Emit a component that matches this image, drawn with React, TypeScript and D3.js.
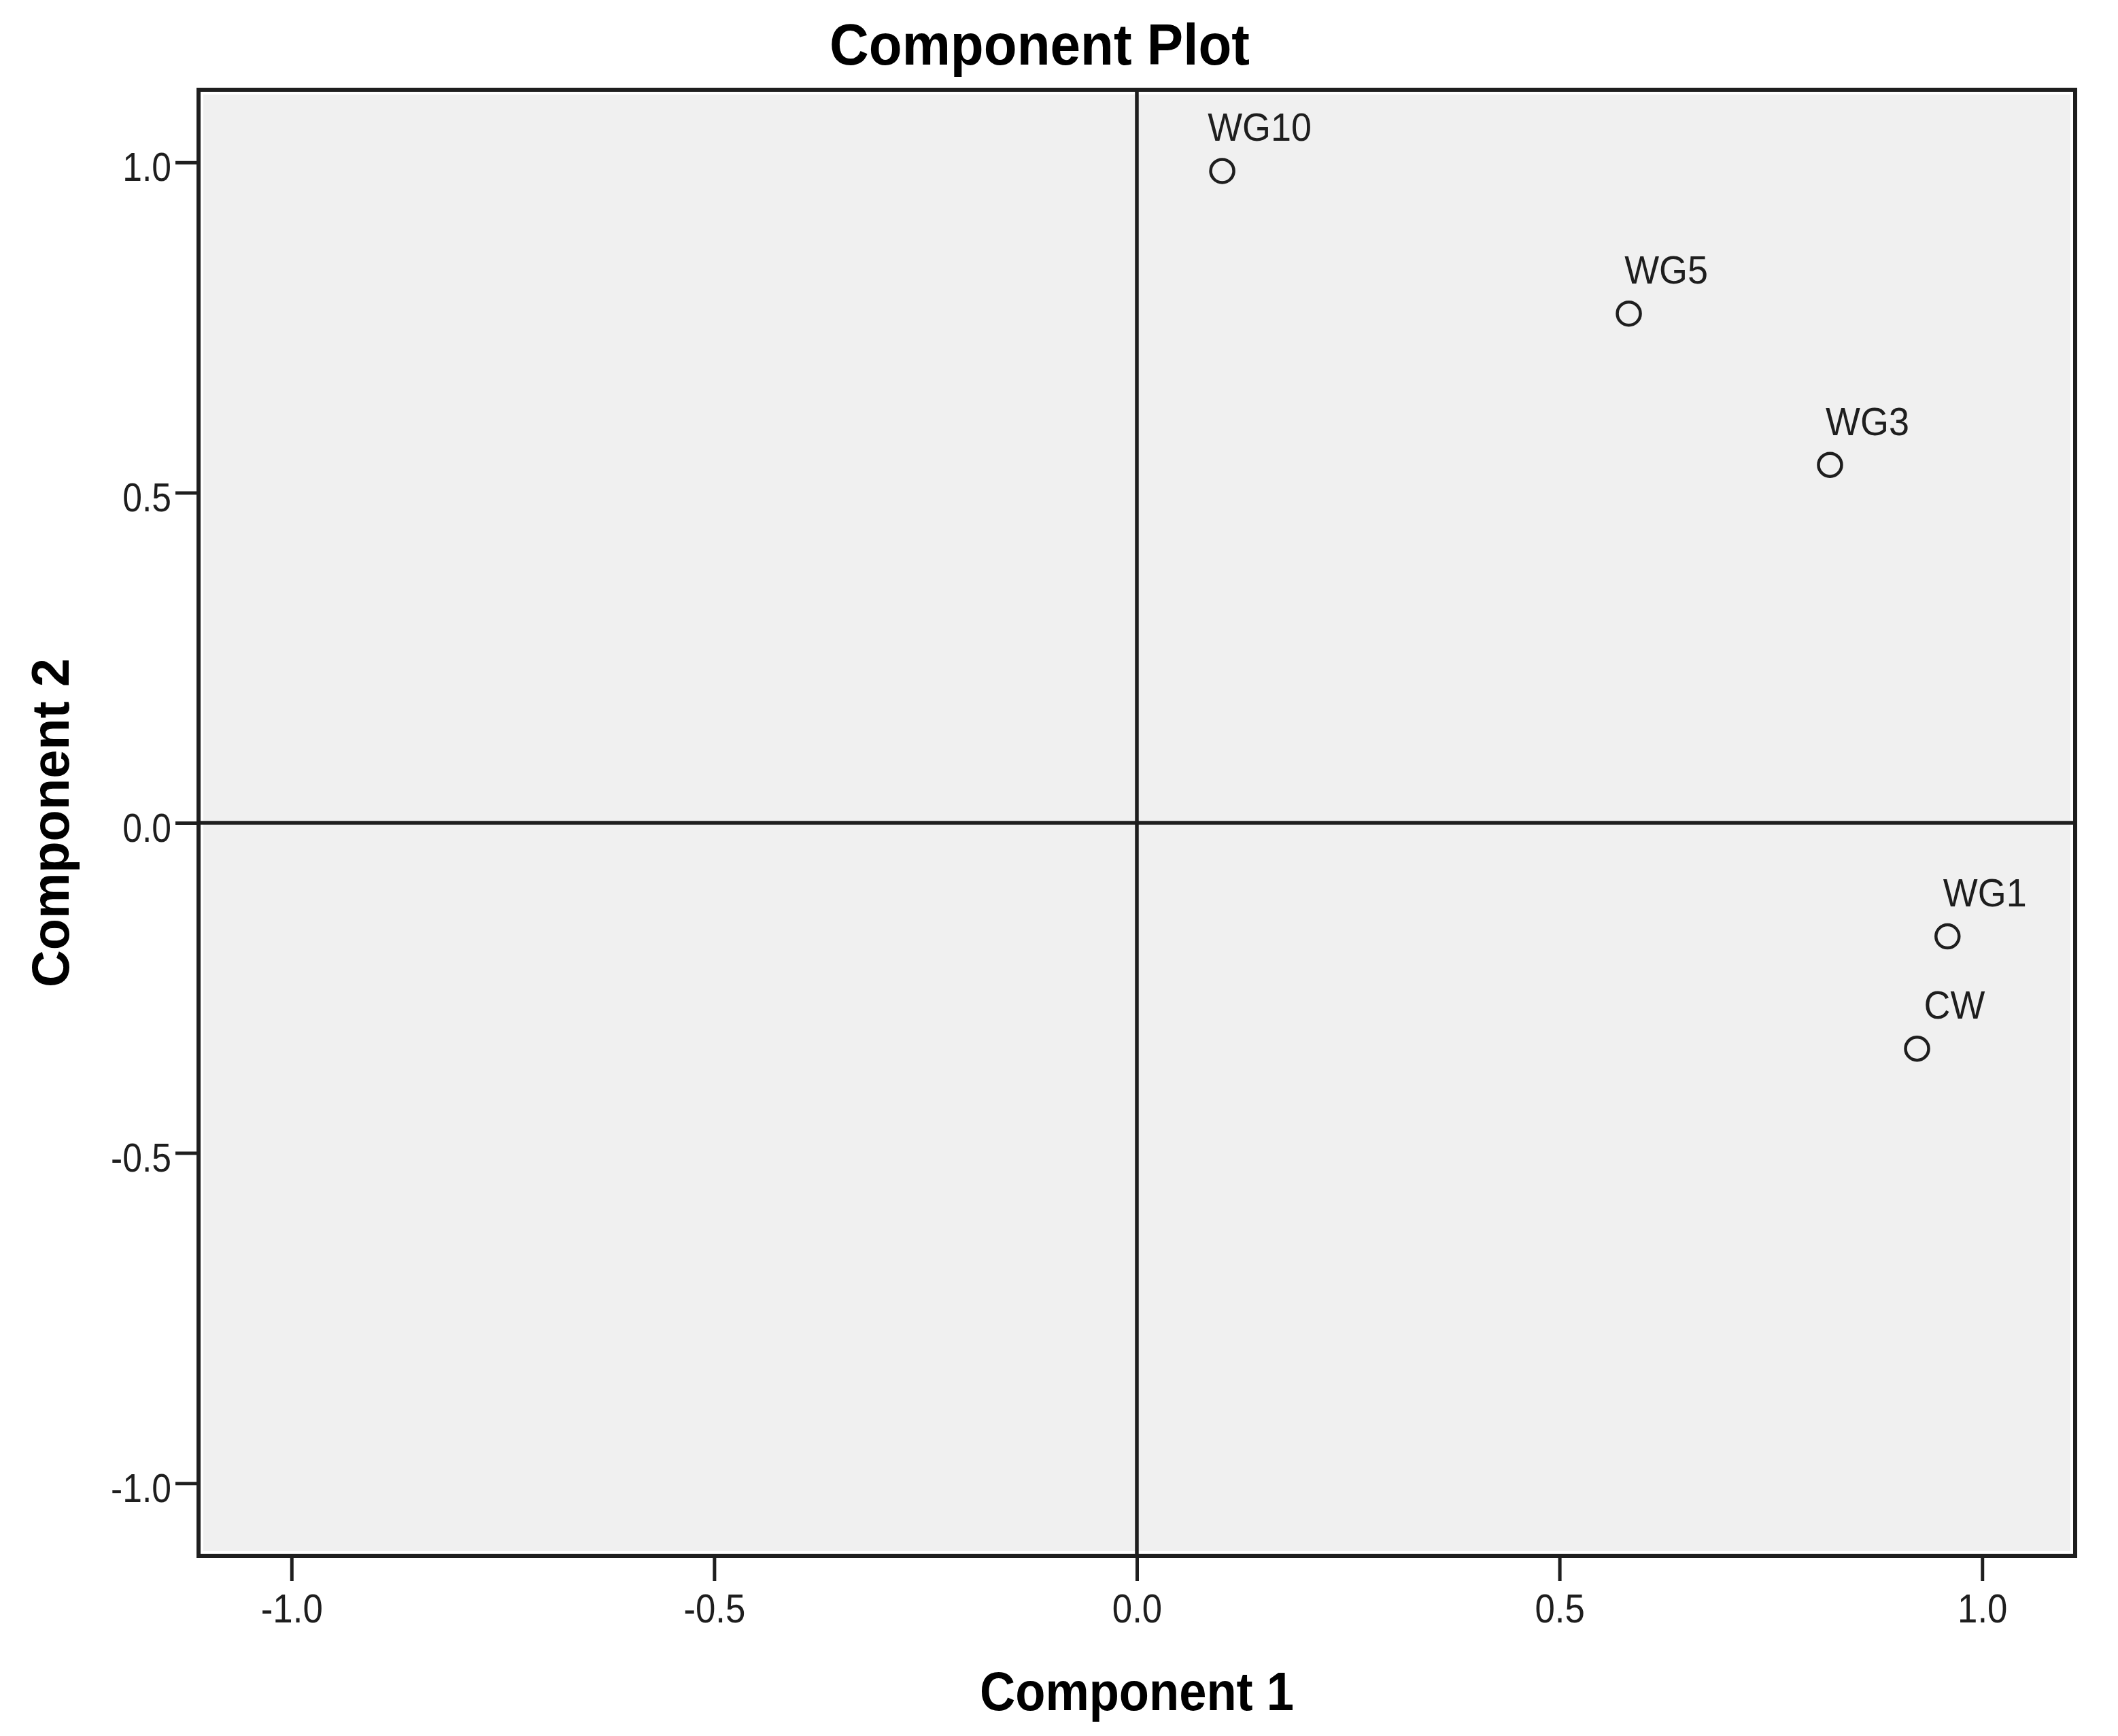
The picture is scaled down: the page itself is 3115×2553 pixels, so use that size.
// App.tsx
import React, { useRef, useEffect } from "react";
import * as d3 from "d3";

// component loadings
const variables = ["WG10", "WG5", "WG3", "WG1", "CW"];
const component1 = [0.101, 0.582, 0.82, 0.959, 0.923];
const component2 = [0.987, 0.771, 0.542, -0.172, -0.342];

const xTicks = [-1.0, -0.5, 0.0, 0.5, 1.0];
const yTicks = [-1.0, -0.5, 0.0, 0.5, 1.0];

const App = () => {
  const ref = useRef<SVGSVGElement>(null);

  useEffect(() => {
    drawPlot();
  }, []);

  // spss text comes out a bit narrower than Arial
  const squeeze = (sel: any, k: number) => {
    sel.each(function (this: SVGTextElement) {
      const len = this.getComputedTextLength();
      d3.select(this)
        .attr("textLength", len * k)
        .attr("lengthAdjust", "spacingAndGlyphs");
    });
  };

  const drawPlot = () => {
    const svg = d3.select(ref.current);
    svg.selectAll("*").remove();

    const width = 3115;
    const height = 2553;
    const margin = { top: 132, right: 63, bottom: 265, left: 292 };
    const ink = "#1e1e1e";

    const x = d3
      .scaleLinear()
      .domain([-1.11, 1.11])
      .range([margin.left, width - margin.right]);
    const y = d3
      .scaleLinear()
      .domain([-1.11, 1.11])
      .range([height - margin.bottom, margin.top]);

    svg
      .append("rect")
      .attr("width", width)
      .attr("height", height)
      .attr("fill", "white");

    // plot area with the light inner edge
    svg
      .append("rect")
      .attr("x", x(-1.11) + 5)
      .attr("y", y(1.11) + 5)
      .attr("width", x(1.11) - x(-1.11) - 10)
      .attr("height", y(-1.11) - y(1.11) - 10)
      .attr("fill", "#f0f0f0")
      .attr("stroke", "white")
      .attr("stroke-width", 4);

    // zero reference lines
    svg
      .append("line")
      .attr("x1", x(0))
      .attr("x2", x(0))
      .attr("y1", y(1.11))
      .attr("y2", y(-1.11))
      .attr("stroke", ink)
      .attr("stroke-width", 5.5);
    svg
      .append("line")
      .attr("x1", x(-1.11))
      .attr("x2", x(1.11))
      .attr("y1", y(0))
      .attr("y2", y(0))
      .attr("stroke", ink)
      .attr("stroke-width", 5.5);

    // plain hyphen for the minus sign, like spss
    const fmt = (d: number) => d3.format(".1f")(d).replace("\u2212", "-");

    const xAxis = svg
      .append("g")
      .attr("transform", `translate(0,${y(-1.11)})`)
      .call(
        d3
          .axisBottom(x)
          .tickValues(xTicks)
          .tickFormat(fmt as any)
          .tickSize(37)
          .tickPadding(18)
      );
    xAxis.select(".domain").remove();
    xAxis.selectAll("line").attr("stroke", ink).attr("stroke-width", 5);
    xAxis
      .selectAll("text")
      .attr("font-family", "Liberation Sans, Arial, sans-serif")
      .attr("font-size", 60)
      .attr("fill", ink);
    squeeze(xAxis.selectAll("text"), 0.88);

    const yAxis = svg
      .append("g")
      .attr("transform", `translate(${x(-1.11)},0)`)
      .call(
        d3
          .axisLeft(y)
          .tickValues(yTicks)
          .tickFormat(fmt as any)
          .tickSize(34)
          .tickPadding(6)
      );
    yAxis.select(".domain").remove();
    yAxis.selectAll("line").attr("stroke", ink).attr("stroke-width", 5);
    yAxis
      .selectAll("text")
      .attr("font-family", "Liberation Sans, Arial, sans-serif")
      .attr("font-size", 60)
      .attr("dy", "0.45em")
      .attr("fill", ink);
    squeeze(yAxis.selectAll("text"), 0.86);

    // frame
    svg
      .append("rect")
      .attr("x", x(-1.11))
      .attr("y", y(1.11))
      .attr("width", x(1.11) - x(-1.11))
      .attr("height", y(-1.11) - y(1.11))
      .attr("fill", "none")
      .attr("stroke", ink)
      .attr("stroke-width", 6);

    // points + labels
    variables.forEach((name, i) => {
      const cx = x(component1[i]);
      const cy = y(component2[i]);
      svg
        .append("circle")
        .attr("cx", cx)
        .attr("cy", cy)
        .attr("r", 17)
        .attr("fill", "none")
        .attr("stroke", ink)
        .attr("stroke-width", 4.5);

      const label = svg
        .append("text")
        .attr("x", cx + 55)
        .attr("y", cy - 44)
        .attr("text-anchor", "middle")
        .attr("font-family", "Liberation Sans, Arial, sans-serif")
        .attr("font-size", 58)
        .attr("fill", ink)
        .text(name);
      squeeze(label, 0.93);
    });

    // titles
    svg
      .append("text")
      .attr("x", 1529)
      .attr("y", 95)
      .attr("text-anchor", "middle")
      .attr("font-family", "Liberation Sans, Arial, sans-serif")
      .attr("font-weight", "bold")
      .attr("font-size", 86)
      .attr("textLength", 618)
      .attr("lengthAdjust", "spacingAndGlyphs")
      .text("Component Plot");

    svg
      .append("text")
      .attr("x", x(0))
      .attr("y", 2515)
      .attr("text-anchor", "middle")
      .attr("font-family", "Liberation Sans, Arial, sans-serif")
      .attr("font-weight", "bold")
      .attr("font-size", 80)
      .attr("textLength", 462)
      .attr("lengthAdjust", "spacingAndGlyphs")
      .text("Component 1");

    svg
      .append("text")
      .attr("transform", `translate(101,${y(0)}) rotate(-90)`)
      .attr("text-anchor", "middle")
      .attr("font-family", "Liberation Sans, Arial, sans-serif")
      .attr("font-weight", "bold")
      .attr("font-size", 78)
      .attr("textLength", 484)
      .attr("lengthAdjust", "spacingAndGlyphs")
      .text("Component 2");
  };

  return (
    <svg
      ref={ref}
      width={3115}
      height={2553}
      style={{ position: "absolute", left: 0, top: 0, display: "block" }}
    ></svg>
  );
};

export default App;
